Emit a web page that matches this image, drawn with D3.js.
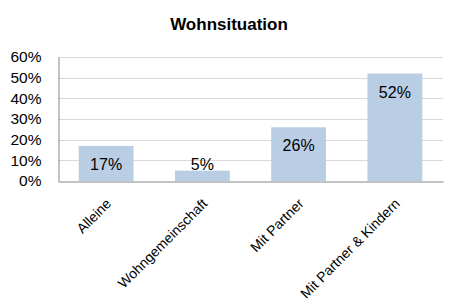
<!DOCTYPE html>
<html>
<head>
<meta charset="utf-8">
<script src="https://cdn.jsdelivr.net/npm/d3@7"></script>
<style>
  body { margin: 0; background: #fff; }
  text { font-family: "Liberation Sans", Arial, sans-serif; fill: #000; }
</style>
</head>
<body>
<div id="container"></div>
<script>
const width = 457,
  height = 306,
  margin = { top: 57, bottom: 125, left: 58, right: 14 };

/** -------------- DATA -------------- */

const categories = ["Alleine", "Wohngemeinschaft", "Mit Partner", "Mit Partner & Kindern"];
const shares = [0.17, 0.05, 0.26, 0.52];
const yTicks = [0, 0.1, 0.2, 0.3, 0.4, 0.5, 0.6];

/** -------------- SCALES -------------- */

const x = d3.scaleBand(categories, [margin.left, width - margin.right])
  .paddingInner(0.43)
  .paddingOuter(0.215);

const y = d3.scaleLinear([0, 0.6], [height - margin.bottom, margin.top]);

const pct = d3.format(".0%");

/** -------------- APPEND TO DOM -------------- */

const svg = d3.select("#container")
  .append("svg")
  .attr("width", width)
  .attr("height", height);

svg.append("text")
    .attr("x", 229)
    .attr("y", 30)
    .attr("text-anchor", "middle")
    .attr("font-weight", "bold")
    .attr("font-size", 17)
    .text("Wohnsituation");

// gridlines
svg.append("g")
  .selectAll("line")
  .data(yTicks.slice(1))
  .join("line")
    .attr("x1", margin.left)
    .attr("x2", width - margin.right)
    .attr("y1", d => Math.round(y(d)) + 0.5)
    .attr("y2", d => Math.round(y(d)) + 0.5)
    .attr("stroke", "#d9d9d9");

// y axis
const yAxis = svg.append("g")
    .attr("transform", `translate(${margin.left + 0.5},0)`)
    .call(d3.axisLeft(y).tickValues(yTicks).tickFormat(pct).tickSize(0).tickPadding(17));
yAxis.select(".domain").attr("stroke", "#868686");
yAxis.selectAll("text")
    .attr("font-size", 15.5)
    .attr("font-family", "Liberation Sans, Arial, sans-serif");

// bars
svg.append("g")
  .selectAll("rect")
  .data(shares)
  .join("rect")
    .attr("x", (d, i) => x(categories[i]))
    .attr("y", d => y(d))
    .attr("width", x.bandwidth())
    .attr("height", d => y(0) - y(d))
    .attr("fill", "#b9cde5");

// value labels
svg.append("g")
  .selectAll("text")
  .data(shares)
  .join("text")
    .attr("x", (d, i) => x(categories[i]) + x.bandwidth() / 2)
    .attr("y", d => Math.min(y(d) + 24, y(0) - 11))
    .attr("text-anchor", "middle")
    .attr("font-size", 16)
    .text(pct);

// x axis
const xAxis = svg.append("g")
    .attr("transform", `translate(0,${Math.round(y(0)) + 0.5})`)
    .call(d3.axisBottom(x).tickSize(0).tickPadding(10));
xAxis.select(".domain").attr("stroke", "#868686");
xAxis.selectAll("text")
    .attr("font-size", 14)
    .attr("font-family", "Liberation Sans, Arial, sans-serif")
    .attr("text-anchor", "end")
    .attr("dy", "0.6em")
    .attr("transform", "translate(-7,10) rotate(-45)");
</script>
</body>
</html>
